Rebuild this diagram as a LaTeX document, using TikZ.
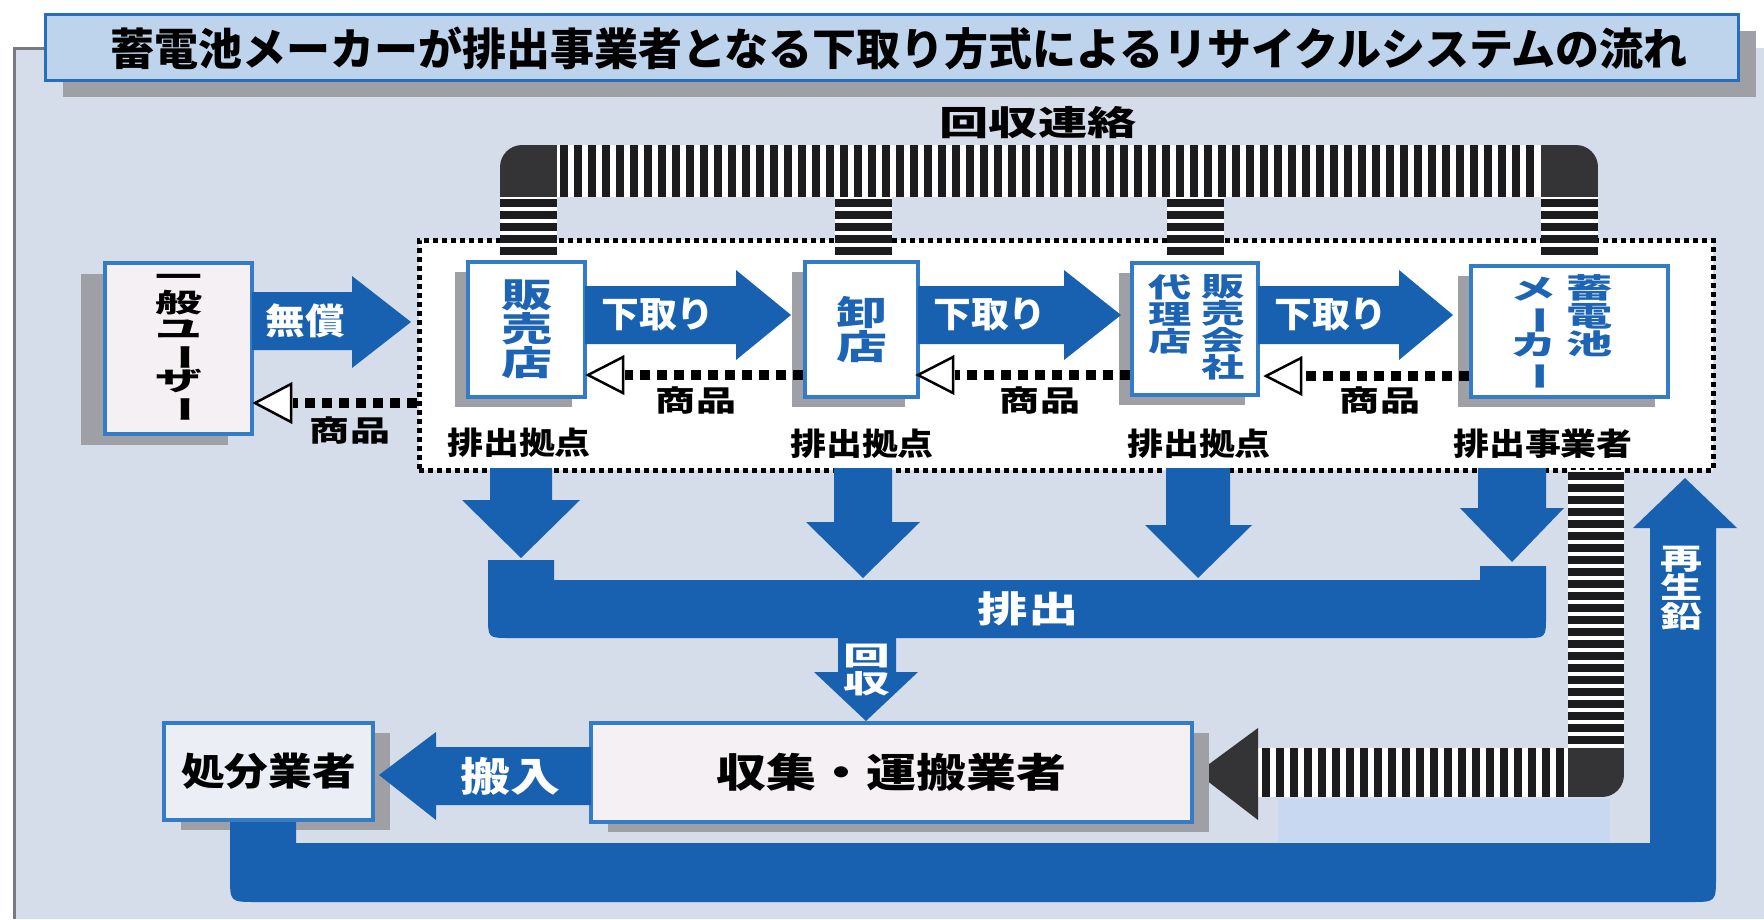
\documentclass[tikz,border=0pt]{standalone}
\usepackage{fontspec}
\usepackage{graphicx}
\newfontfamily\jp{Noto Sans CJK JP}
\usetikzlibrary{shadows}
\definecolor{bgc}{RGB}{213,220,234}
\definecolor{arrblue}{RGB}{24,96,176}
\definecolor{boxblue}{RGB}{52,124,200}
\definecolor{boxtext}{RGB}{30,100,180}
\definecolor{titlefill}{RGB}{190,212,236}
\definecolor{titleblue}{RGB}{40,110,190}
\definecolor{shgray}{RGB}{158,160,166}
\definecolor{stripe}{RGB}{28,28,30}
\definecolor{cornerdark}{RGB}{52,52,54}
\definecolor{framegray}{RGB}{120,122,130}
\definecolor{pale}{RGB}{245,240,243}
\definecolor{palb}{RGB}{236,238,246}
\definecolor{lightpatch}{RGB}{200,216,240}
\newcommand\fs[1]{\fontsize{#1}{#1}\selectfont}
\newcommand\vt[4]{\scalebox{#1}[1]{\vbox{\fontsize{#2}{#3}\selectfont\lineskiplimit=-100pt\lineskip=0pt\halign{\hfil##\hfil\cr#4\cr}}}}
\newcommand\vbar{\rotatebox[origin=c]{-90}{ー}}
\begin{document}
\begin{tikzpicture}[x=1pt,y=-1pt,
  lbl/.style={inner sep=0pt, font=\jp\bfseries},
  bx/.style={draw=boxblue, line width=3.5pt, fill=white, inner sep=0pt},
  shL/.style={drop shadow={shadow xshift=-13pt, shadow yshift=-10pt, fill=shgray, opacity=1}},
  shR/.style={drop shadow={shadow xshift=17pt, shadow yshift=-10pt, fill=shgray, opacity=1}},
  dotl/.style={line width=10pt, dash pattern=on 10pt off 7pt, black},
  openhead/.style={fill=white, draw=black, line width=2.5pt, line join=miter},
  blk/.style={fill=arrblue},
]
\useasboundingbox (0,0) rectangle (1764,919);
% background and frame
\fill[bgc] (14,48) rectangle (1764,919);
\draw[framegray, line width=3pt] (14,919) -- (14,48) -- (50,48);
% title
\node[draw=titleblue, line width=3pt, fill=titlefill, minimum width=1693pt, minimum height=66pt, inner sep=0pt,
  drop shadow={shadow xshift=18pt, shadow yshift=-17pt, fill=shgray, opacity=1}] (title) at (891.5,47) {};
\node[lbl, font=\jp\bfseries\fs{44}] (titletext) at (899,48) {蓄電池メーカーが排出事業者となる下取り方式によるリサイクルシステムの流れ};
% dotted zone
\node[fill=white, draw=black, line width=5pt, dash pattern=on 5pt off 4pt, minimum width=1294pt, minimum height=230pt, inner sep=0pt] (zone) at (1066,355) {};
% top striped bar
\begin{scope}
\clip[rounded corners=22pt] (500,260) -- (500,145) -- (1598,145) -- (1598,260) -- cycle;
\fill[white] (500,145) rectangle (1598,197);
\foreach \x in {557,571,...,1533} \fill[stripe] (\x+3,145) rectangle +(8,52);
\fill[cornerdark] (500,145) rectangle (557,197);
\fill[cornerdark] (1541,145) rectangle (1598,197);
\end{scope}
\foreach \xa/\yb in {500/262,835/262,1167/263,1541/266}{
  \fill[white] (\xa,197) rectangle (\xa+57,\yb);
  \foreach \y in {199,211,...,255} \fill[stripe] (\xa,\y) rectangle +(57,8);
}
% lower right striped L
\begin{scope}
\clip[rounded corners=22pt] (1100,400) -- (1624,400) -- (1624,797) -- (1100,797) -- cycle;
\fill[white] (1568,470) rectangle (1624,797);
\fill[white] (1258,748) rectangle (1624,797);
\foreach \y in {472,484,...,736} \fill[stripe] (1568,\y) rectangle +(56,8);
\foreach \x in {1262,1276,...,1556} \fill[stripe] (\x,748) rectangle +(8,49);
\fill[cornerdark] (1568,748) rectangle (1624,797);
\end{scope}
\fill[cornerdark] (1258,728) -- (1197,773) -- (1258,820) -- cycle;
% top row boxes
\node[bx, fill=pale, minimum width=147pt, minimum height=171pt, font=\jp\bfseries,
  drop shadow={shadow xshift=-24pt,shadow yshift=-11pt,fill=shgray,opacity=1}] (usr) at (178.5,348.5)
  {\vt{1.8}{26}{26}{一\cr 般\cr ユ\cr \vbar\cr ザ\cr \vbar}};
\node[bx, shL, minimum width=117pt, minimum height=135pt, text=boxtext, font=\jp\bfseries] (b1) at (526.5,329.5) {\vt{1.5}{34}{34}{販\cr 売\cr 店}};
\node[bx, shL, minimum width=113pt, minimum height=135pt, text=boxtext, font=\jp\bfseries] (b2) at (861.5,329.5) {\vt{1.5}{34}{34}{卸\cr 店}};
\node[bx, shL, minimum width=126pt, minimum height=132pt] (b3) at (1195,329) {};
\node[lbl, font=\jp\bfseries, text=boxtext, anchor=north] (b3r) at (1223,274) {\vt{1.6}{27}{27}{販\cr 売\cr 会\cr 社}};
\node[lbl, font=\jp\bfseries, text=boxtext, anchor=north] (b3l) at (1170,274) {\vt{1.6}{27}{27}{代\cr 理\cr 店}};
\node[bx, shL, minimum width=197pt, minimum height=131pt] (b4) at (1569.5,331.5) {};
\node[lbl, font=\jp\bfseries, text=boxtext, anchor=north] (b4r) at (1590,274) {\vt{1.65}{28}{28}{蓄\cr 電\cr 池}};
\node[lbl, font=\jp\bfseries, text=boxtext, anchor=north] (b4l) at (1534,277) {\vt{1.65}{28}{28}{メ\cr \vbar\cr カ\cr \vbar}};
% right block arrows
\fill[blk] (252,292) -- (352,292) -- (352,276) -- (411,322) -- (352,368) -- (352,350) -- (252,350) -- cycle;
\fill[blk] (585,286) -- (736,286) -- (736,270) -- (791,315) -- (736,360) -- (736,344) -- (585,344) -- cycle;
\fill[blk] (918,286) -- (1064,286) -- (1064,270) -- (1121,315) -- (1064,360) -- (1064,344) -- (918,344) -- cycle;
\fill[blk] (1258,286) -- (1399,286) -- (1399,270) -- (1453,315) -- (1399,360) -- (1399,344) -- (1258,344) -- cycle;
% dotted goods arrows
\draw[dotl] (zone.west |- 0,403) -- (293,403);
\draw[openhead] (291,384) -- (255,403) -- (291,422) -- cycle;
\draw[dotl] (b2.west |- 0,375) -- (625,375);
\draw[openhead] (623,357) -- (588,375) -- (623,393) -- cycle;
\draw[dotl] (b3.west |- 0,375) -- (955,375);
\draw[openhead] (953,357) -- (918,375) -- (953,393) -- cycle;
\draw[dotl] (b4.west |- 0,376) -- (1303,376);
\draw[openhead] (1301,358) -- (1266,376) -- (1301,394) -- cycle;
% down arrows
\fill[blk] (490,468) -- (552,468) -- (552,500) -- (580,500) -- (521,558) -- (462,500) -- (490,500) -- cycle;
\fill[blk] (834,468) -- (892,468) -- (892,522) -- (920,522) -- (863,578) -- (806,522) -- (834,522) -- cycle;
\fill[blk] (1166,468) -- (1230,468) -- (1230,525) -- (1252,525) -- (1198,578) -- (1145,525) -- (1166,525) -- cycle;
\fill[blk] (1478,468) -- (1546,468) -- (1546,508) -- (1564,508) -- (1512,562) -- (1460,508) -- (1478,508) -- cycle;
% discharge band
\fill[blk] (488,560) -- (554,560) -- (554,580) -- (1480,580) -- (1480,566) -- (1546,566) -- (1546,616) .. controls (1546,638) .. (1524,638) -- (510,638) .. controls (488,638) .. (488,616) -- cycle;
% collection arrow
\fill[blk] (838,636) -- (896,636) -- (896,672) -- (918,672) -- (866,721) -- (814,672) -- (838,672) -- cycle;
% bottom boxes
\node[bx, fill=pale, shR, minimum width=601pt, minimum height=99pt, font=\jp\bfseries\fs{40}] (coll) at (891.5,772.5) {\scalebox{1.25}[1]{収集・運搬業者}};
\node[bx, fill=palb, shR, minimum width=209pt, minimum height=97pt, font=\jp\bfseries\fs{38}] (disp) at (268.5,771.5) {\scalebox{1.15}[1]{処分業者}};
% carry-in arrow
\fill[blk] (591,747) -- (436,747) -- (436,732) -- (379,775) -- (436,820) -- (436,805) -- (591,805) -- cycle;
% light patch
\fill[lightpatch] (1278,799) rectangle (1610,842);
% recycled lead band
\fill[blk] (230,822) -- (296,822) -- (296,843) -- (1650,843) -- (1650,528) -- (1633,528) -- (1685,478) -- (1737,528) -- (1716,528) -- (1716,876) .. controls (1716,902) .. (1690,902) -- (256,902) .. controls (230,902) .. (230,876) -- cycle;
% labels
\node[lbl, font=\jp\bfseries\fs{34}] (lrenraku) at (1038,123) {\scalebox{1.45}[1]{回収連絡}};
\node[lbl, text=white, font=\jp\bfseries\fs{36}] (lmusho) at (305,321) {\scalebox{1.1}[1]{無償}};
\node[lbl, text=white, font=\jp\bfseries\fs{36}] (lshita1) at (658,314) {\scalebox{1.05}[1]{下取り}};
\node[lbl, text=white, font=\jp\bfseries\fs{36}] (lshita2) at (990,314) {\scalebox{1.05}[1]{下取り}};
\node[lbl, text=white, font=\jp\bfseries\fs{36}] (lshita3) at (1331,314) {\scalebox{1.05}[1]{下取り}};
\node[lbl, font=\jp\bfseries\fs{29}] (lsho0) at (350,430) {\scalebox{1.38}[1]{商品}};
\node[lbl, font=\jp\bfseries\fs{29}] (lsho1) at (696,400) {\scalebox{1.38}[1]{商品}};
\node[lbl, font=\jp\bfseries\fs{29}] (lsho2) at (1040,400) {\scalebox{1.38}[1]{商品}};
\node[lbl, font=\jp\bfseries\fs{29}] (lsho3) at (1380,400) {\scalebox{1.38}[1]{商品}};
\node[lbl, font=\jp\bfseries\fs{31}] (lkyo1) at (519,443) {\scalebox{1.16}[1]{排出拠点}};
\node[lbl, font=\jp\bfseries\fs{31}] (lkyo2) at (862,444) {\scalebox{1.16}[1]{排出拠点}};
\node[lbl, font=\jp\bfseries\fs{31}] (lkyo3) at (1199,444) {\scalebox{1.16}[1]{排出拠点}};
\node[lbl, font=\jp\bfseries\fs{31}] (ljig) at (1543,444) {\scalebox{1.16}[1]{排出事業者}};
\node[lbl, text=white, font=\jp\bfseries\fs{36}] (lhai) at (1028,609) {\scalebox{1.4}[1]{排出}};
\node[lbl, text=white, font=\jp\bfseries] (lkai) at (867,670) {\vt{1.8}{26}{28}{回\cr 収}};
\node[lbl, text=white, font=\jp\bfseries\fs{40}] (lhan) at (510,776) {\scalebox{1.25}[1]{搬入}};
\node[lbl, text=white, font=\jp\bfseries] (lsai) at (1682,588) {\vt{1.45}{29}{29}{再\cr 生\cr 鉛}};
\end{tikzpicture}
\end{document}
